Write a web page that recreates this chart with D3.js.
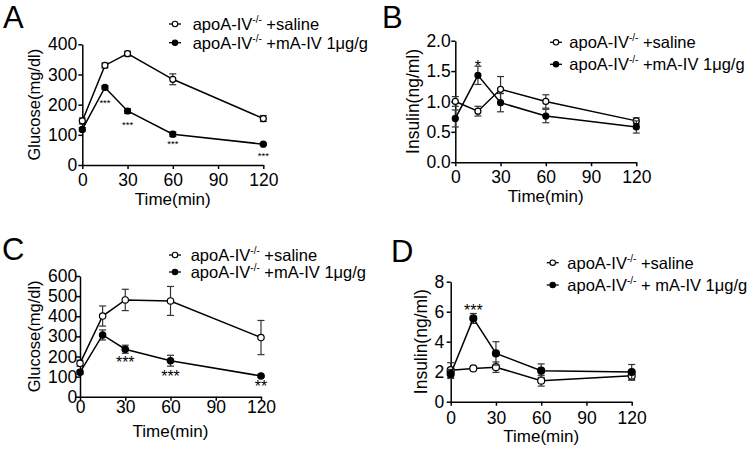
<!DOCTYPE html>
<html>
<head>
<meta charset="utf-8">
<script src="https://cdn.jsdelivr.net/npm/d3@7"></script>
<style>
  body { margin: 0; background: #fff; }
  svg { display: block; font-family: "Liberation Sans", Arial, sans-serif; }
</style>
</head>
<body>
<svg id="chart" width="756" height="450"></svg>
<script>
// sampling times (min) and axis ticks
const times = [0, 15, 30, 60, 120];
const xTicks = [0, 30, 60, 90, 120];

// A: glucose, first experiment
const glucoseA_saline = [146, 330, 369, 284, 154];
const glucoseA_salineErr = [10, 8, 8, 18, 10];
const glucoseA_mAIV = [118, 257, 179, 102, 69];
const glucoseA_mAIVErr = [6, 6, 8, 8, 4];
const yTicksA = [0, 100, 200, 300, 400];
const starsA = [[15, 215, "***"], [30, 140, "***"], [60, 79, "***"], [120, 39, "***"]];

// B: insulin, first experiment
const insulinB_saline = [1.0, 0.84, 1.2, 1.0, 0.68];
const insulinB_salineErr = [0.08, 0.08, 0.21, 0.11, 0.05];
const insulinB_mAIV = [0.72, 1.43, 0.98, 0.76, 0.58];
const insulinB_mAIVErr = [0.14, 0.15, 0.15, 0.11, 0.1];
const yTicksB = [0, 0.5, 1.0, 1.5, 2.0];
const starsB = [[15, 1.64, "*"]];

// C: glucose, second experiment
const glucoseC_saline = [166, 401, 481, 476, 294];
const glucoseC_salineErr = [15, 50, 53, 72, 85];
const glucoseC_mAIV = [121, 307, 236, 179, 103];
const glucoseC_mAIVErr = [10, 25, 20, 27, 5];
const yTicksC = [0, 100, 200, 300, 400, 500, 600];
const starsC = [[30, 186, "***"], [60, 116, "***"], [120, 70, "**"]];

// D: insulin, second experiment
const insulinD_saline = [2.1, 2.22, 2.3, 1.4, 1.73];
const insulinD_salineErr = [0.5, 0.1, 0.35, 0.36, 0.3];
const insulinD_mAIV = [1.85, 5.55, 3.22, 2.07, 1.98];
const insulinD_mAIVErr = [0.3, 0.33, 0.78, 0.45, 0.5];
const yTicksD = [0, 2, 4, 6, 8];
const starsD = [[15, 6.33, "***"]];

const svg = d3.select("#chart");

const panels = [
  { letter: "A", lx: 3, ly: 28, x0: 82.3, y0: 165, yTop: 44.3, yMax: 400, yTicks: yTicksA, fmt: d3.format("d"),
    ytitle: "Glucose(mg/dl)", ytx: 40, ytsize: 16.5, xpad: 4.8, ypad: 1,
    saline: glucoseA_saline, salineErr: glucoseA_salineErr, mAIV: glucoseA_mAIV, mAIVErr: glucoseA_mAIVErr,
    stars: starsA, starSize: 9.5, r: 3,
    leg: { mx: 175, tx: 192.7, y1: 24, y2: 42.7, second: " +mA-IV 1\u03bcg/g" } },
  { letter: "B", lx: 382, ly: 28, x0: 455.3, y0: 162.2, yTop: 40.7, yMax: 2, yTicks: yTicksB, fmt: d3.format(".1f"),
    ytitle: "Insulin(ng/ml)", ytx: 419, ytsize: 17.5, xpad: 4.3, ypad: 0.6,
    saline: insulinB_saline, salineErr: insulinB_salineErr, mAIV: insulinB_mAIV, mAIVErr: insulinB_mAIVErr,
    stars: starsB, starSize: 16, r: 3,
    leg: { mx: 556, tx: 569.3, y1: 42.3, y2: 64.3, second: " +mA-IV 1\u03bcg/g" } },
  { letter: "C", lx: 2, ly: 260, x0: 80, y0: 396.7, yTop: 276, yMax: 600, yTicks: yTicksC, fmt: d3.format("d"),
    ytitle: "Glucose(mg/dl)", ytx: 39.5, ytsize: 16.5, xpad: 0, ypad: -1.3,
    saline: glucoseC_saline, salineErr: glucoseC_salineErr, mAIV: glucoseC_mAIV, mAIVErr: glucoseC_mAIVErr,
    stars: starsC, starSize: 16, r: 3.2,
    leg: { mx: 175, tx: 190.7, y1: 255, y2: 272, second: " +mA-IV 1\u03bcg/g" } },
  { letter: "D", lx: 391, ly: 262, x0: 450.7, y0: 401.7, yTop: 281.7, yMax: 8, yTicks: yTicksD, fmt: d3.format("d"),
    ytitle: "Insulin(ng/ml)", ytx: 427, ytsize: 17.5, xpad: 5.8, ypad: 2.4,
    saline: insulinD_saline, salineErr: insulinD_salineErr, mAIV: insulinD_mAIV, mAIVErr: insulinD_mAIVErr,
    stars: starsD, starSize: 16, r: 3.5,
    leg: { mx: 552.7, tx: 567.3, y1: 262.7, y2: 285, second: " + mA-IV 1\u03bcg/g" } }
];

panels.forEach(p => {
  const x = d3.scaleLinear().domain([0, 120]).range([p.x0, p.x0 + 181]);
  const y = d3.scaleLinear().domain([0, p.yMax]).range([p.y0, p.yTop]);

  svg.append("text")
    .attr("x", p.lx).attr("y", p.ly)
    .attr("font-size", 31)
    .text(p.letter);

  const gx = svg.append("g")
    .attr("transform", `translate(0,${p.y0})`)
    .call(d3.axisBottom(x).tickValues(xTicks).tickSize(4).tickSizeOuter(0).tickPadding(p.xpad));
  const gy = svg.append("g")
    .attr("transform", `translate(${p.x0},0)`)
    .call(d3.axisLeft(y).tickValues(p.yTicks).tickFormat(p.fmt).tickSize(4).tickSizeOuter(0).tickPadding(p.ypad));
  [gx, gy].forEach(g => {
    g.selectAll("path, line").attr("stroke", "#000").attr("stroke-width", 1.5);
    g.selectAll("text").attr("font-size", 17.5).attr("fill", "#000")
      .attr("font-family", "Liberation Sans, Arial, sans-serif");
  });

  svg.append("text")
    .attr("x", x(60)).attr("y", p.y0 + 40)
    .attr("text-anchor", "middle")
    .attr("font-size", 17)
    .text("Time(min)");

  svg.append("text")
    .attr("transform", `translate(${p.ytx},${(p.y0 + p.yTop) / 2}) rotate(-90)`)
    .attr("text-anchor", "middle")
    .attr("font-size", p.ytsize)
    .text(p.ytitle);

  const line = d3.line().x(d => x(d[0])).y(d => y(d[1]));

  const series = [
    { vals: p.saline, errs: p.salineErr, fill: "#fff" },
    { vals: p.mAIV, errs: p.mAIVErr, fill: "#000" }
  ];

  series.forEach(s => {
    const pts = times.map((t, i) => [t, s.vals[i], s.errs[i]]);

    const eb = svg.append("g").attr("stroke", "#333").attr("stroke-width", 1.2);
    pts.forEach(d => {
      const cx = x(d[0]);
      const yh = y(d[1] + d[2]), yl = y(d[1] - d[2]);
      eb.append("line").attr("x1", cx).attr("x2", cx).attr("y1", yh).attr("y2", yl);
      eb.append("line").attr("x1", cx - 3.5).attr("x2", cx + 3.5).attr("y1", yh).attr("y2", yh);
      eb.append("line").attr("x1", cx - 3.5).attr("x2", cx + 3.5).attr("y1", yl).attr("y2", yl);
    });

    svg.append("path")
      .datum(pts)
      .attr("fill", "none")
      .attr("stroke", "#000")
      .attr("stroke-width", 1.5)
      .attr("d", line);

    svg.append("g").selectAll("circle")
      .data(pts)
      .join("circle")
      .attr("cx", d => x(d[0]))
      .attr("cy", d => y(d[1]))
      .attr("r", p.r)
      .attr("fill", s.fill)
      .attr("stroke", "#000")
      .attr("stroke-width", 1.2);
  });

  // significance marks, y value is the centre of the stars
  p.stars.forEach(s => {
    svg.append("text")
      .attr("x", x(s[0])).attr("y", y(s[1]) + p.starSize * 0.57)
      .attr("text-anchor", "middle")
      .attr("font-size", p.starSize)
      .text(s[2]);
  });

  // legend
  const rows = [
    { cy: p.leg.y1, fill: "#fff", rest: " +saline" },
    { cy: p.leg.y2, fill: "#000", rest: p.leg.second }
  ];
  rows.forEach(r => {
    svg.append("line")
      .attr("x1", p.leg.mx - 6).attr("x2", p.leg.mx + 6)
      .attr("y1", r.cy).attr("y2", r.cy)
      .attr("stroke", "#000").attr("stroke-width", 1.3);
    svg.append("circle")
      .attr("cx", p.leg.mx).attr("cy", r.cy).attr("r", 2.7)
      .attr("fill", r.fill).attr("stroke", "#000").attr("stroke-width", 1.1);
    const t = svg.append("text")
      .attr("x", p.leg.tx).attr("y", r.cy + 6)
      .attr("font-size", 16.5);
    t.append("tspan").text("apoA-IV");
    t.append("tspan").attr("dy", -7).attr("font-size", 10).text("-/-");
    t.append("tspan").attr("dy", 7).text(r.rest);
  });
});
</script>
</body>
</html>
